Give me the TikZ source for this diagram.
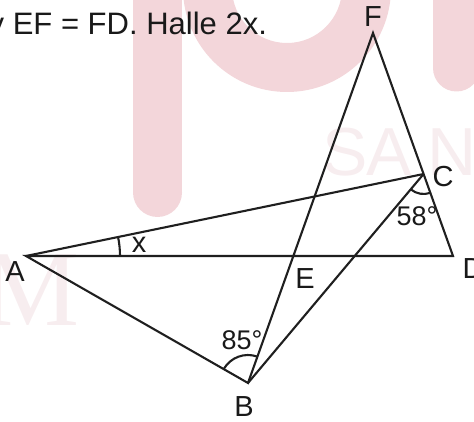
\documentclass[tikz,border=0pt]{standalone}
\usepackage{fontspec}
\setmainfont{Liberation Sans}
\newfontfamily\wmserif{Liberation Serif}
\usetikzlibrary{angles,calc}
\definecolor{wm}{RGB}{243,214,218}
\definecolor{wmtext}{RGB}{247,237,239}
\begin{document}
\begin{tikzpicture}[x=1pt,y=-1pt,
  seg/.style={line width=2.1pt, draw=black!88, line join=miter},
  lbl/.style={inner sep=0pt, text=black!90, font=\fontsize{29}{29}\selectfont},
  deg/.style={inner sep=0pt, text=black!90, font=\fontsize{27}{27}\selectfont},
  anglemark/.style={draw=black!88, line width=2.1pt}]
\useasboundingbox (0,0) rectangle (474,422);
% watermark
\fill[wm] (133,0) rectangle (182,192.5);
\fill[wm] (157.5,192.5) circle (24.5);
\fill[wm, even odd rule] (287,-12) circle (104) (287,-12) circle (55);
\fill[wm] (433,0) rectangle (480,68);
\fill[wm] (456.5,68) circle (23.5);
\node[inner sep=0, text=wmtext, font=\fontsize{68}{68}\selectfont] (wS) at (345,152) {S};
\node[inner sep=0, text=wmtext, font=\fontsize{68}{68}\selectfont] (wA) at (389,152) {A};
\node[inner sep=0, text=wmtext, font=\fontsize{68}{68}\selectfont] (wN) at (452,152) {N};
\node[inner sep=0, anchor=base east, text=wmtext, font=\wmserif\fontsize{108}{108}\selectfont] (wM) at (80,325) {M};
% points
\coordinate (F) at (373,33);
\coordinate (C) at (423.6,174);
\coordinate (A) at (26,256);
\coordinate (D) at (453,256);
\coordinate (B) at (248,383);
\coordinate (E) at (intersection of F--B and A--D);
% segments
\draw[seg] (A) -- (D) -- (F) -- (B) -- cycle;
\draw[seg] (A) -- (C);
\draw[seg] (B) -- (C);
% angle marks
\pic[anglemark, angle radius=94pt] {angle=D--A--C};
\pic[anglemark, angle radius=28pt] {angle=E--B--A};
\pic[anglemark, angle radius=20pt] {angle=B--C--D};
% labels
\node[lbl] (lF) at (373,17) {F};
\node[lbl] (lC) at (443,177) {C};
\node[lbl] (lD) at (473,269) {D};
\node[lbl] (lA) at (15,272) {A};
\node[lbl] (lE) at (305,279) {E};
\node[lbl] (lB) at (244,407) {B};
\node[lbl] (lx) at (139,245) {x};
\node[deg] (l58) at (417,216) {58°};
\node[deg] (l85) at (242,340) {85°};
% title
\node[inner sep=0, anchor=base west, text=black!90, font=\fontsize{31}{31}\selectfont] (title) at (-11.5,35) {y EF = FD. Halle 2x.};
\end{tikzpicture}
\end{document}
